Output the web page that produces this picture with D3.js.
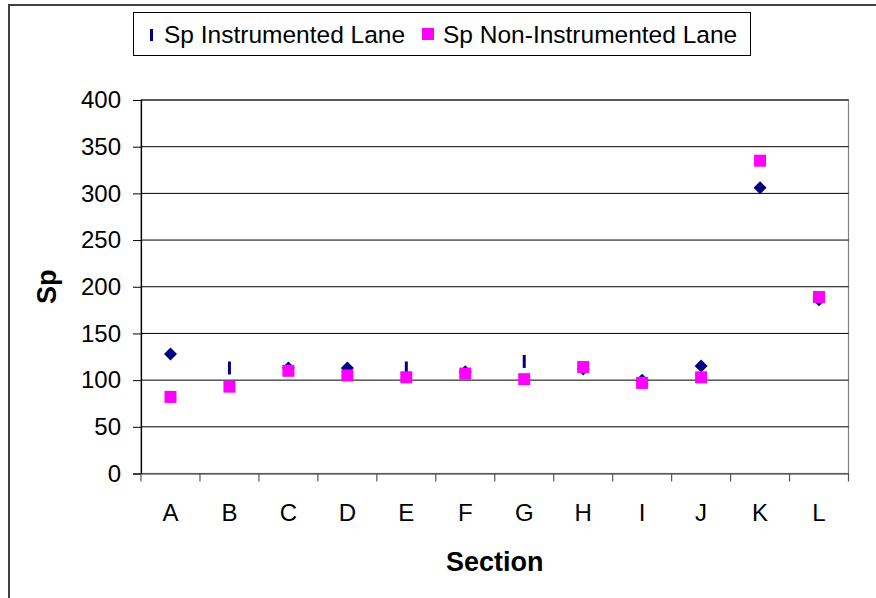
<!DOCTYPE html>
<html>
<head>
<meta charset="utf-8">
<script src="https://cdn.jsdelivr.net/npm/d3@7/dist/d3.min.js"></script>
<style>
  html, body { margin: 0; padding: 0; background: #fff; }
  svg { display: block; font-family: "Liberation Sans", Arial, sans-serif; }
</style>
</head>
<body>
<svg id="chart" width="876" height="598"></svg>
<script>
// Sp by pavement section, instrumented vs non-instrumented lane
const sections = ["A", "B", "C", "D", "E", "F", "G", "H", "I", "J", "K", "L"];
const spInstrumented = [128, 113, 113, 113, 113, 109, 120, 112, 100, 115, 306, 186];
const spNonInstrumented = [82, 93, 110, 105, 103, 107, 101, 114, 97, 103, 335, 189];
const yTicks = [0, 50, 100, 150, 200, 250, 300, 350, 400];
const seriesNames = ["Sp Instrumented Lane", "Sp Non-Instrumented Lane"];

// sections whose diamond prints as a narrow upright sliver
const narrowDiamonds = new Set(["B", "E", "G"]);

const navy = "#000080";
const magenta = "#FF00FF";

const svg = d3.select("#chart");
const plot = { left: 141, right: 848.5, top: 100, bottom: 473.5 };

const x = d3.scaleBand().domain(sections).range([plot.left, plot.right]).padding(0);
const y = d3.scaleLinear().domain([0, 400]).range([plot.bottom, plot.top]);

// outer chart frame (runs off the right and bottom edges)
svg.append("rect")
  .attr("x", 9).attr("y", 5).attr("width", 900).attr("height", 620)
  .attr("fill", "none").attr("stroke", "#404040").attr("stroke-width", 2);

// plot area frame
svg.append("rect")
  .attr("x", plot.left).attr("y", plot.top)
  .attr("width", plot.right - plot.left).attr("height", plot.bottom - plot.top)
  .attr("fill", "none").attr("stroke", "#808080").attr("stroke-width", 1.2);

// horizontal gridlines
svg.append("g")
  .selectAll("line")
  .data(yTicks.filter(d => d > 0))
  .join("line")
  .attr("x1", plot.left).attr("x2", plot.right)
  .attr("y1", d => y(d)).attr("y2", d => y(d))
  .attr("stroke", "#000").attr("stroke-width", 1);

// y axis
const yAxis = svg.append("g")
  .attr("transform", `translate(${plot.left},0)`)
  .call(d3.axisLeft(y).tickValues(yTicks).tickSize(8).tickPadding(12));
yAxis.select(".domain").attr("stroke", "#000").attr("stroke-width", 1.2);
yAxis.selectAll(".tick line").attr("stroke", "#000");
yAxis.selectAll(".tick text")
  .attr("font-size", 24).attr("fill", "#000")
  .attr("font-family", "'Liberation Sans', Arial, sans-serif");

// x axis: labels centred in each section, ticks on section boundaries
const xAxis = svg.append("g")
  .attr("transform", `translate(0,${plot.bottom})`)
  .call(d3.axisBottom(x).tickSize(0).tickPadding(30));
xAxis.select(".domain").attr("stroke", "#333").attr("stroke-width", 1.2);
xAxis.selectAll(".tick text")
  .attr("font-size", 24).attr("fill", "#000")
  .attr("font-family", "'Liberation Sans', Arial, sans-serif");

svg.append("g")
  .selectAll("line")
  .data(sections.map(s => x(s)).concat([x.range()[1]]))
  .join("line")
  .attr("x1", d => d).attr("x2", d => d)
  .attr("y1", plot.bottom).attr("y2", plot.bottom + 8)
  .attr("stroke", "#555").attr("stroke-width", 1.2);

// axis titles
svg.append("text")
  .attr("x", (plot.left + plot.right) / 2).attr("y", 571)
  .attr("text-anchor", "middle")
  .attr("font-size", 27).attr("font-weight", "bold")
  .text("Section");

svg.append("text")
  .attr("transform", `translate(56,${(plot.top + plot.bottom) / 2}) rotate(-90)`)
  .attr("text-anchor", "middle")
  .attr("font-size", 27).attr("font-weight", "bold")
  .text("Sp");

const cx = s => x(s) + x.bandwidth() / 2;

// instrumented lane: navy diamonds
svg.append("g")
  .selectAll("path")
  .data(sections.map((s, i) => ({ s, v: spInstrumented[i] })))
  .join("path")
  .attr("transform", d => `translate(${cx(d.s)},${y(d.v)})`)
  .attr("d", d => narrowDiamonds.has(d.s)
    ? "M-1.5,-6.5h3v13h-3z"
    : "M0,-6.5L6.5,0L0,6.5L-6.5,0Z")
  .attr("fill", navy);

// non-instrumented lane: magenta squares
svg.append("g")
  .selectAll("rect")
  .data(sections.map((s, i) => ({ s, v: spNonInstrumented[i] })))
  .join("rect")
  .attr("x", d => cx(d.s) - 6).attr("y", d => y(d.v) - 6)
  .attr("width", 12).attr("height", 12)
  .attr("fill", magenta);

// legend
const legend = svg.append("g");
legend.append("rect")
  .attr("x", 133.5).attr("y", 12.5).attr("width", 617).attr("height", 43)
  .attr("fill", "#fff").attr("stroke", "#000").attr("stroke-width", 1);
legend.append("rect")
  .attr("x", 150).attr("y", 29).attr("width", 3).attr("height", 12)
  .attr("fill", navy);
legend.append("text")
  .attr("x", 164).attr("y", 43)
  .attr("font-size", 24.5).text(seriesNames[0]);
legend.append("rect")
  .attr("x", 422).attr("y", 28).attr("width", 12).attr("height", 12)
  .attr("fill", magenta);
legend.append("text")
  .attr("x", 443).attr("y", 43)
  .attr("font-size", 24.5).text(seriesNames[1]);
</script>
</body>
</html>
